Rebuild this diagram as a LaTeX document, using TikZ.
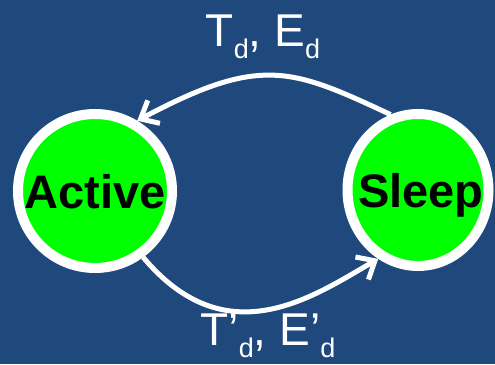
\documentclass[tikz,border=0pt]{standalone}
\usepackage{fontspec}
\setmainfont{Liberation Sans}
\usepackage{xcolor}
\usepackage{tikz}
\usetikzlibrary{positioning,arrows.meta,shapes.geometric}
\definecolor{cBack}{HTML}{1F497D}
\definecolor{cState}{HTML}{00FF00}
\definecolor{cInk}{HTML}{000000}
\definecolor{cLine}{HTML}{FFFFFF}
\newcommand{\subd}{\raisebox{-12pt}{\fontsize{27}{27}\selectfont d}}

\begin{document}
\begin{tikzpicture}[
  x=1pt, y=1pt,
  state/.style={circle, draw=cLine, fill=cState, line width=10pt, minimum size=154pt, inner sep=0pt},
  txt/.style={font=\fontsize{47}{47}\selectfont\bfseries, text=cInk, text depth=0pt, inner sep=0pt},
  trans/.style={-{Straight Barb[length=15pt, width=26pt]}, cLine, line width=5pt},
  lbl/.style={font=\fontsize{46}{46}\selectfont, text=cLine, inner sep=0pt, anchor=base},
]

% ---------- canvas ----------
\fill[cBack] (0,0) rectangle (495,364);
\useasboundingbox (0,0) rectangle (495,364);

% ---------- states ----------
\node[state, label={[txt]center:Active}] (active) at (95,173) {};
\node[state, ellipse, minimum width=141pt, minimum height=152pt,
      label={[txt, xshift=3pt]center:Sleep}] (sleep) at (418,174) {};

% ---------- transitions ----------
\draw[trans] (sleep.110) .. controls +(155:110) and +(28:140) .. (active.59);
\draw[trans] (active.306) .. controls +(310:130) and +(210:75) .. (sleep.240);

% ---------- labels ----------
\node[lbl] (tdup) at (263,317) {T\subd, E\subd};
\node[lbl] (tddown) at (268,19) {T’\subd, E’\subd};

\end{tikzpicture}
\end{document}
